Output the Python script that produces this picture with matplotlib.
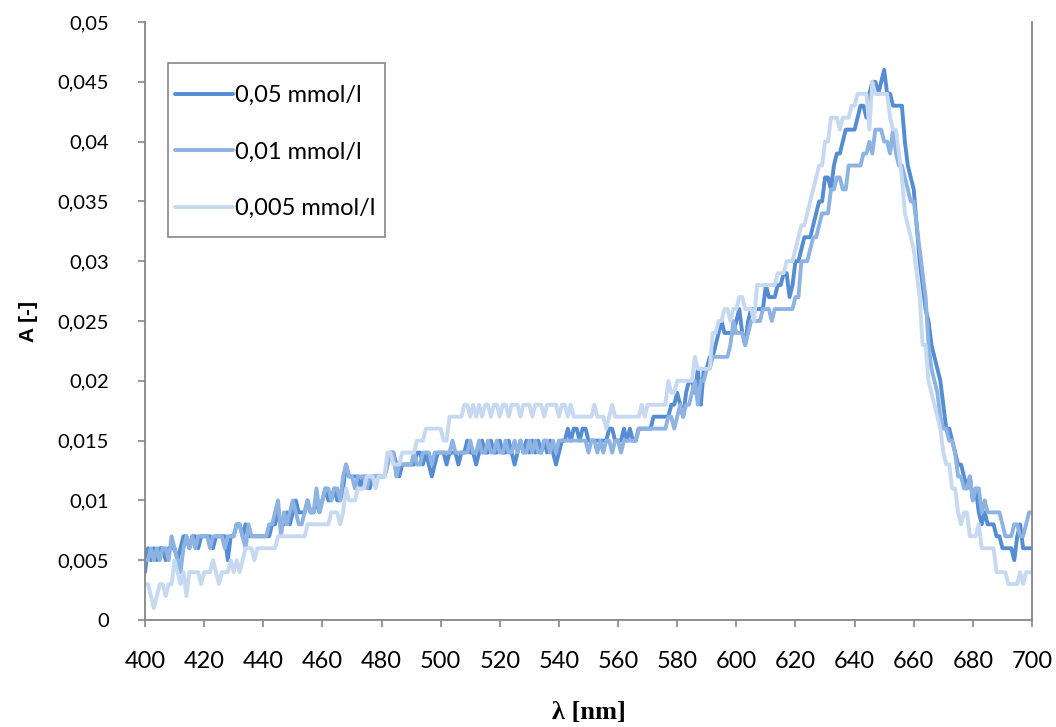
import numpy as np
import matplotlib
matplotlib.use("Agg")
import matplotlib.pyplot as plt
from matplotlib.patches import Rectangle
from matplotlib.ticker import FuncFormatter

# Wavelength grid (nm), one reading per nanometre
wavelength = np.arange(400, 701)

# Absorbance in units of 0.001, 400..700 nm
abs_005 = [
    4, 6, 5, 6, 5, 6, 6, 5, 6, 6,
    6, 5, 6, 7, 7, 6, 7, 7, 6, 7,
    7, 7, 7, 6, 7, 7, 7, 7, 5, 7,
    7, 8, 8, 7, 8, 7, 7, 7, 7, 7,
    7, 7, 7, 8, 8, 9, 8, 8, 9, 8,
    9, 10, 9, 9, 9, 10, 9, 9, 10, 9,
    10, 11, 10, 10, 11, 10, 10, 11, 13, 12,
    12, 12, 12, 11, 12, 12, 11, 12, 12, 12,
    12, 12, 13, 14, 14, 13, 12, 13, 13, 13,
    13, 13, 14, 14, 13, 14, 13, 12, 13, 14,
    14, 14, 13, 14, 14, 14, 13, 14, 14, 15,
    14, 14, 13, 14, 15, 14, 14, 15, 14, 14,
    15, 14, 14, 15, 14, 13, 14, 15, 14, 15,
    14, 15, 14, 15, 14, 15, 14, 15, 14, 13,
    14, 15, 15, 16, 15, 16, 16, 15, 16, 16,
    15, 15, 15, 15, 15, 15, 15, 16, 16, 15,
    15, 15, 16, 15, 16, 15, 15, 16, 16, 16,
    16, 16, 17, 17, 17, 17, 17, 17, 18, 18,
    19, 18, 17, 19, 20, 20, 19, 21, 18, 21,
    21, 22, 22, 23, 24, 25, 24, 24, 24, 24,
    25, 26, 24, 23, 25, 26, 26, 26, 26, 26,
    28, 27, 27, 27, 28, 28, 29, 29, 27, 28,
    30, 30, 31, 32, 32, 32, 33, 34, 35, 35,
    37, 37, 36, 38, 39, 39, 40, 41, 41, 41,
    41, 42, 43, 43, 42, 44, 45, 45, 44, 45,
    46, 44, 44, 43, 43, 43, 43, 40, 38, 37,
    36, 33, 30, 28, 26, 25, 23, 22, 21, 20,
    18, 16, 16, 15, 14, 13, 13, 12, 11, 12,
    10, 11, 9, 8, 9, 8, 8, 8, 7, 7,
    6, 6, 6, 6, 5, 7, 8, 6, 6, 6,
    6,
]

abs_001 = [
    5, 5, 6, 5, 6, 5, 6, 6, 5, 7,
    6, 5, 4, 6, 7, 6, 7, 6, 7, 7,
    7, 7, 6, 7, 7, 7, 7, 6, 7, 7,
    7, 8, 8, 7, 6, 8, 7, 7, 7, 7,
    7, 7, 8, 8, 9, 10, 7, 9, 8, 9,
    10, 9, 8, 8, 9, 10, 9, 9, 11, 9,
    10, 11, 11, 10, 11, 11, 10, 12, 13, 12,
    12, 11, 12, 12, 12, 11, 12, 12, 12, 12,
    12, 12, 13, 14, 14, 12, 13, 13, 13, 13,
    13, 14, 13, 13, 14, 14, 14, 13, 14, 14,
    14, 14, 14, 14, 15, 14, 14, 14, 14, 14,
    15, 14, 14, 15, 14, 14, 15, 14, 14, 15,
    14, 14, 15, 14, 14, 15, 14, 15, 14, 14,
    15, 14, 15, 14, 14, 15, 15, 14, 15, 14,
    15, 15, 15, 15, 15, 15, 15, 15, 15, 15,
    14, 15, 15, 14, 15, 14, 15, 15, 14, 15,
    15, 14, 15, 15, 15, 15, 15, 16, 16, 16,
    16, 16, 16, 16, 16, 16, 16, 17, 17, 16,
    17, 18, 17, 18, 18, 19, 20, 18, 20, 20,
    21, 21, 22, 22, 22, 22, 22, 22, 23, 25,
    24, 24, 24, 23, 24, 25, 25, 25, 25, 26,
    26, 26, 25, 26, 26, 26, 26, 26, 26, 26,
    27, 27, 30, 30, 30, 31, 32, 32, 33, 34,
    34, 34, 36, 36, 37, 37, 36, 36, 38, 38,
    38, 38, 38, 39, 39, 40, 39, 41, 41, 41,
    40, 40, 39, 41, 39, 38, 38, 37, 36, 35,
    35, 33, 31, 29, 27, 23, 21, 20, 19, 17,
    16, 16, 15, 15, 14, 12, 12, 11, 11, 12,
    10, 11, 11, 9, 10, 9, 9, 9, 9, 9,
    8, 7, 7, 7, 8, 8, 7, 7, 8, 9,
    9,
]

abs_0005 = [
    3, 3, 2, 1, 2, 3, 3, 2, 3, 3,
    5, 4, 3, 4, 2, 4, 4, 4, 4, 3,
    4, 4, 4, 5, 4, 3, 4, 4, 4, 5,
    4, 5, 4, 5, 6, 6, 6, 5, 6, 6,
    6, 6, 6, 6, 6, 7, 7, 7, 7, 7,
    7, 7, 7, 7, 7, 8, 8, 8, 8, 8,
    8, 8, 8, 9, 9, 9, 8, 9, 11, 10,
    10, 10, 11, 11, 11, 12, 12, 12, 11, 12,
    12, 12, 14, 14, 13, 13, 13, 14, 14, 14,
    14, 14, 15, 15, 15, 16, 16, 16, 16, 16,
    16, 15, 15, 17, 17, 17, 17, 17, 18, 18,
    17, 18, 17, 18, 17, 18, 18, 17, 18, 18,
    17, 18, 18, 17, 18, 18, 18, 17, 18, 18,
    18, 17, 18, 18, 18, 17, 18, 18, 18, 18,
    17, 18, 18, 17, 18, 17, 17, 17, 17, 17,
    17, 17, 18, 17, 17, 17, 16, 17, 18, 17,
    17, 17, 17, 17, 17, 17, 17, 17, 18, 17,
    18, 18, 18, 18, 18, 18, 18, 20, 19, 19,
    20, 20, 20, 20, 20, 20, 22, 21, 21, 21,
    21, 21, 24, 24, 25, 25, 26, 26, 25, 26,
    26, 27, 27, 26, 26, 26, 25, 28, 28, 28,
    28, 28, 28, 28, 29, 29, 29, 30, 30, 30,
    31, 32, 33, 33, 34, 35, 36, 37, 38, 38,
    40, 40, 42, 42, 42, 41, 42, 42, 42, 43,
    43, 44, 44, 44, 44, 41, 45, 44, 44, 44,
    44, 44, 42, 41, 41, 39, 37, 34, 33, 32,
    31, 29, 27, 23, 23, 20, 19, 18, 17, 16,
    14, 13, 13, 11, 11, 9, 8, 9, 9, 7,
    7, 7, 8, 6, 6, 6, 6, 6, 4, 4,
    4, 4, 3, 3, 3, 3, 4, 3, 4, 4,
    4,
]

series_labels = ["0,05 mmol/l", "0,01 mmol/l", "0,005 mmol/l"]
series_colors = ["#548DD4", "#8DB3E2", "#C6D9F1"]

x_ticks = list(range(400, 701, 20))
y_ticks = [i * 0.005 for i in range(11)]

axis_grey = "#868686"
sans = ["Lato", "DejaVu Sans"]

W, H = 1056, 727
fig = plt.figure(figsize=(W / 100, H / 100), dpi=100)
ax = fig.add_axes([145 / W, 1 - 620 / H, (1032 - 145) / W, (620 - 22) / H])

lines = []
for values, label, color in zip([abs_005, abs_001, abs_0005], series_labels, series_colors):
    ln, = ax.plot(wavelength, np.array(values) / 1000.0, color=color, lw=2.8,
                  label=label, solid_joinstyle="round", solid_capstyle="round")
    lines.append(ln)

ax.set_xlim(400, 700)
ax.set_ylim(0, 0.05)
ax.set_xticks(x_ticks)
ax.set_yticks(y_ticks)


def comma_fmt(v, pos):
    if abs(v) < 1e-12:
        return "0"
    s = f"{v:.3f}".rstrip("0").rstrip(".")
    return s.replace(".", ",")


ax.yaxis.set_major_formatter(FuncFormatter(comma_fmt))

for lab in ax.get_xticklabels():
    lab.set_fontfamily(sans)
    lab.set_fontsize(17)
for lab in ax.get_yticklabels():
    lab.set_fontfamily(sans)
    lab.set_fontsize(14.5)

ax.tick_params(axis="both", direction="out", length=5, width=1.2, color=axis_grey,
               labelcolor="#000000")
ax.tick_params(axis="y", pad=21)
ax.tick_params(axis="x", pad=17)

for side in ["left", "bottom", "right"]:
    ax.spines[side].set_color(axis_grey)
    ax.spines[side].set_linewidth(1.3)
ax.spines["top"].set_visible(False)

ax.set_ylabel("A [-]", fontsize=15, fontweight="bold",
              family=["Liberation Sans", "DejaVu Sans"])
ax.yaxis.set_label_coords((28 - 145) / 887, 0.5)
ax.yaxis.label.set_verticalalignment("center")

ax.set_xlabel("λ [nm]", fontsize=19, fontweight="bold",
              family=["Liberation Serif", "DejaVu Serif"])
ax.xaxis.set_label_coords(0.5, -(713 - 620) / 598)
ax.xaxis.label.set_verticalalignment("center")

# Legend entries placed without frame; the box is drawn separately
leg = ax.legend(loc="upper left", bbox_to_anchor=(175 / W, 1 - 85 / H),
                bbox_transform=fig.transFigure, frameon=False,
                borderpad=0, borderaxespad=0, labelspacing=1.5,
                handlelength=2.45, handletextpad=0.08,
                prop={"family": sans, "size": 17})
fig.add_artist(Rectangle((168 / W, 1 - 237 / H), (385 - 168) / W, (237 - 63) / H,
                         transform=fig.transFigure, fill=False,
                         edgecolor=axis_grey, linewidth=1.2))

fig.savefig("out.png", dpi=100)
